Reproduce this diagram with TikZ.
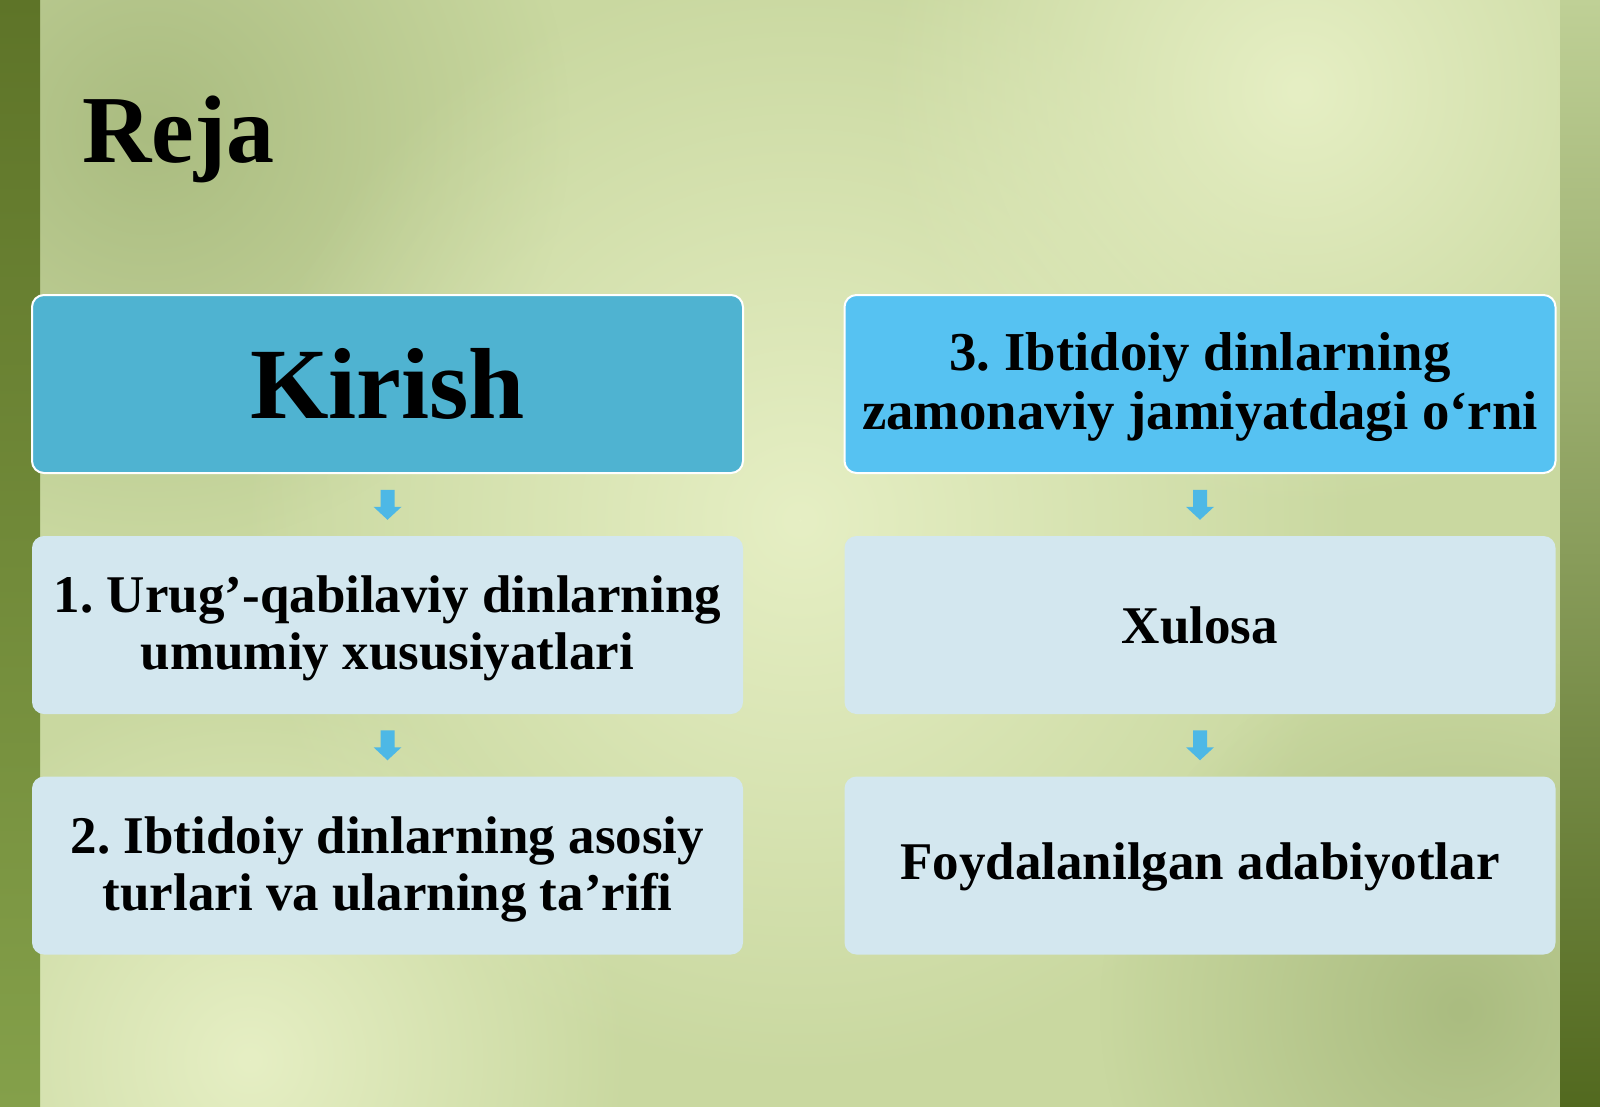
\documentclass[tikz,border=0pt]{standalone}
\usepackage{fontspec}
\setmainfont{Liberation Serif}
\usetikzlibrary{calc,fadings}
\frenchspacing
\tikzfading[name=softspot, inner color=transparent!0, outer color=transparent!100]
\definecolor{bgbase}{HTML}{C9D8A0}
\definecolor{bglight}{HTML}{E6EFC4}
\definecolor{bgdark}{HTML}{AABC80}
\definecolor{stripA}{HTML}{5E7428}
\definecolor{stripB}{HTML}{84A04A}
\definecolor{rstripA}{HTML}{BFD096}
\definecolor{rstripB}{HTML}{52691F}
\definecolor{kirishfill}{HTML}{4FB3D1}
\definecolor{threefill}{HTML}{56C2F2}
\definecolor{lowfill}{HTML}{D3E7EF}
\definecolor{arrowfill}{HTML}{4DB8E6}
\tikzset{
  boxbase/.style={rectangle, rounded corners=6pt, minimum width=355.5pt, minimum height=89pt, inner sep=0pt, align=center, text=black},
  topbox/.style={boxbase, draw=white, line width=1pt},
  lowbox/.style={boxbase, fill=lowfill},
  bodytext/.style={font=\fontsize{26.5}{28.5}\selectfont\bfseries},
  bigbodytext/.style={font=\fontsize{27.4}{29.5}\selectfont\bfseries},
  arrowblock/.style={fill=arrowfill}
}
\newcommand{\downarrowblock}[1]{%
  \fill[arrowblock] ($(#1)+(-7,-15)$) -- ($(#1)+(7,-15)$) -- ($(#1)+(7,2)$) -- ($(#1)+(14,2)$) -- ($(#1)+(0,15)$) -- ($(#1)+(-14,2)$) -- ($(#1)+(-7,2)$) -- cycle;}
\newcommand{\lift}{\rule{0pt}{22pt}}
\begin{document}
\begin{tikzpicture}[x=0.5pt,y=-0.5pt]
\useasboundingbox (0,0) rectangle (1600,1107);
% background
\fill[bgbase] (0,0) rectangle (1600,1107);
\fill[bgdark, path fading=softspot] (150,130) circle (420);
\fill[bglight, path fading=softspot] (800,520) circle (560);
\fill[bglight, path fading=softspot] (1300,90) circle (420);
\fill[bglight, path fading=softspot] (250,1060) circle (380);
\fill[bgdark, path fading=softspot] (1460,1010) circle (360);
% strips
\shade[top color=stripA, bottom color=stripB] (0,0) rectangle (40,1107);
\shade[top color=rstripA, bottom color=rstripB] (1560,0) rectangle (1600,1107);
% title
\node[font=\fontsize{48}{56}\selectfont\bfseries, anchor=base west, inner sep=0pt] (title) at (82,163) {Reja};
% boxes
\node[topbox, fill=kirishfill, font=\fontsize{50.5}{56}\selectfont\bfseries] (k) at (387.5,384) {Kirish};
\node[lowbox, bodytext] (u1) at (387.5,625) {\lift 1. Urug’-qabilaviy dinlarning\\umumiy xususiyatlari};
\node[lowbox, bodytext] (u2) at (387.5,865.5) {\lift 2. Ibtidoiy dinlarning asosiy\\turlari va ularning ta’rifi};
\node[topbox, fill=threefill, bigbodytext] (r1) at (1200,384) {\lift 3. Ibtidoiy dinlarning\\zamonaviy jamiyatdagi o‘rni};
\node[lowbox, bodytext] (r2) at (1200,625) {Xulosa};
\node[lowbox, bodytext] (r3) at (1200,865.5) {\rule{0pt}{20pt}Foydalanilgan adabiyotlar};
% arrows
\coordinate (a1) at ($(k.south)!0.5!(u1.north)$);
\coordinate (a2) at ($(u1.south)!0.5!(u2.north)$);
\coordinate (a3) at ($(r1.south)!0.5!(r2.north)$);
\coordinate (a4) at ($(r2.south)!0.5!(r3.north)$);
\downarrowblock{a1}
\downarrowblock{a2}
\downarrowblock{a3}
\downarrowblock{a4}
\end{tikzpicture}
\end{document}
